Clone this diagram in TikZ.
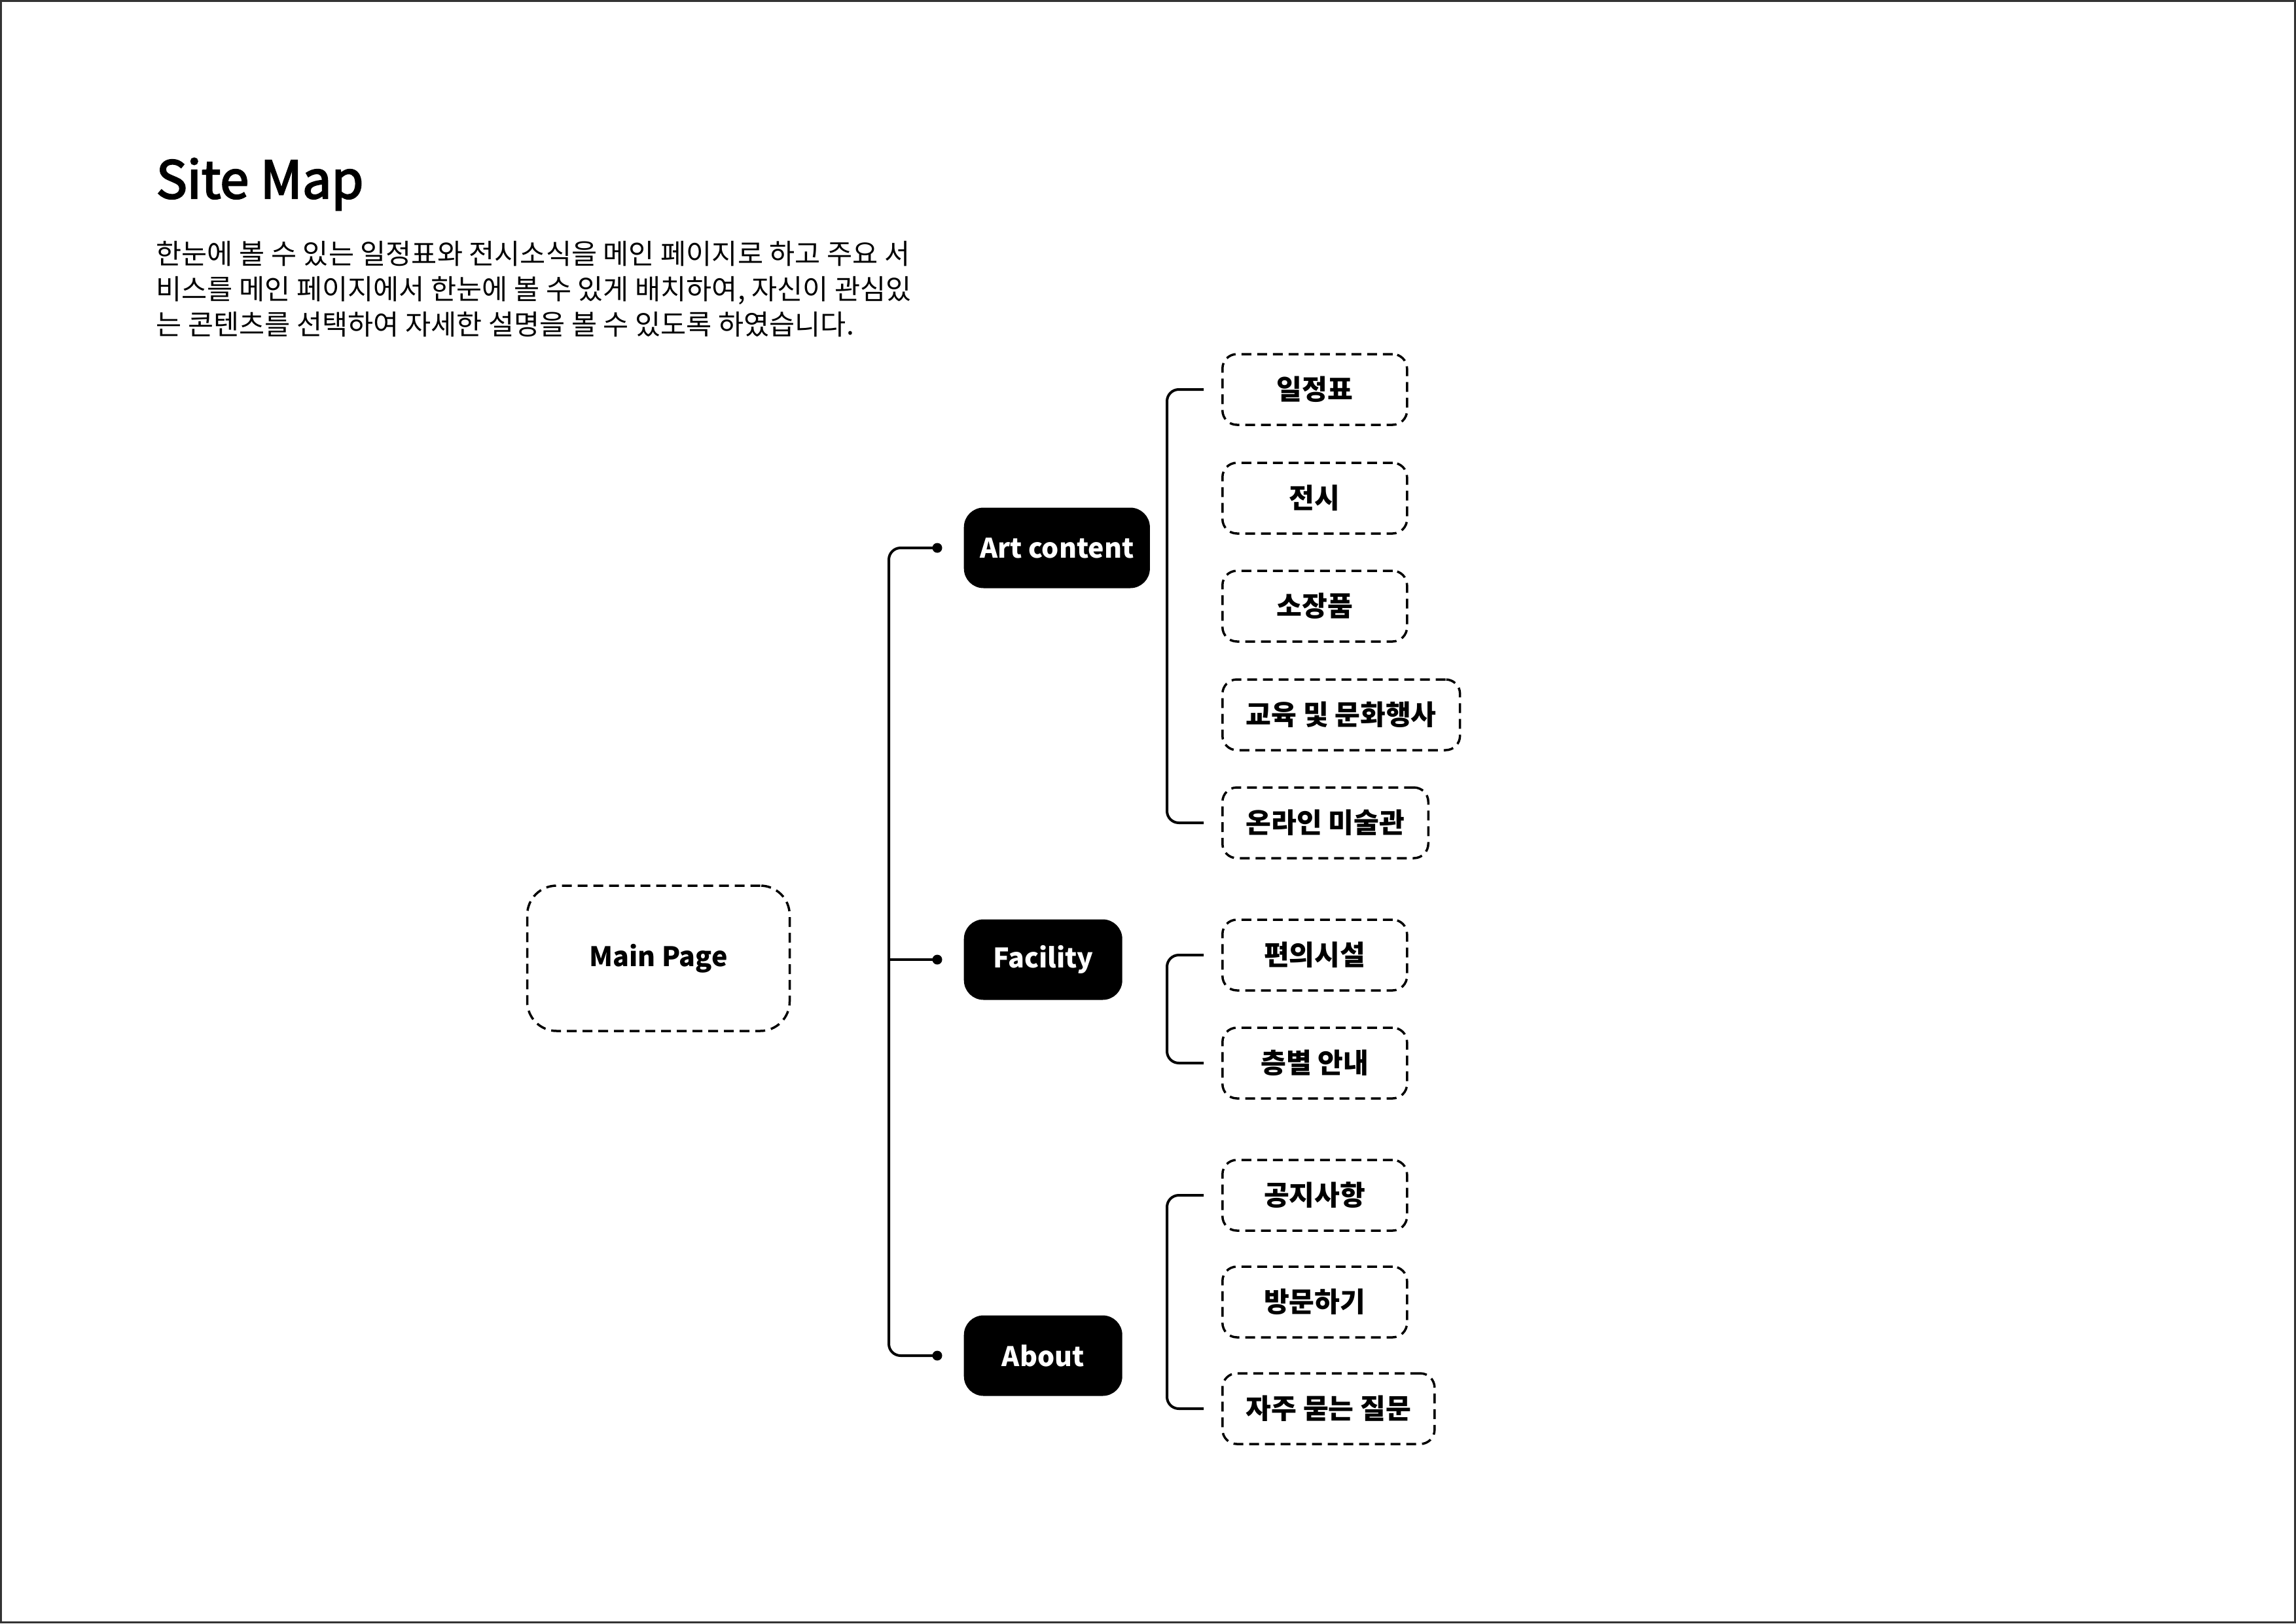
\documentclass[tikz,border=0pt]{standalone}
\usepackage{fontspec}
\setmainfont{Noto Sans CJK KR}
\newfontfamily\titlefont{Noto Sans CJK KR}[FakeBold=3]
\usepackage{tikz}
\usetikzlibrary{positioning}

\begin{document}
\begin{tikzpicture}[
	mainbox/.style={draw, line width=0.035cm, dash pattern=on 0.15cm off 0.09cm, rounded corners=0.45cm, minimum width=4.01cm, minimum height=2.22cm, font=\bfseries\fontsize{11.7}{14}\selectfont},
	menubox/.style={fill=black, text=white, rounded corners=0.3cm, minimum width=2.42cm, minimum height=1.23cm, inner xsep=0.245cm, anchor=west, font=\bfseries\fontsize{11.7}{14}\selectfont},
	subbox/.style={draw, line width=0.035cm, dash pattern=on 0.15cm off 0.09cm, rounded corners=0.22cm, minimum width=2.82cm, minimum height=1.08cm, inner xsep=0.36cm, anchor=west, font=\bfseries\fontsize{12}{14}\selectfont},
	link/.style={line width=0.04cm, rounded corners=0.18cm},
	dot/.style={circle, fill=black, inner sep=0pt, minimum size=0.15cm},
	]
	\useasboundingbox (0, 0) rectangle (35.08, -24.80);
	\draw[line width=0.3mm, black!80] (0.015, -0.015) rectangle (35.065, -24.785);
	%%
	\node[anchor=base west, inner sep=0pt, font=\titlefont\fontsize{22.5}{26}\selectfont] (title) at (2.38, -3.03) {Site Map};
	\node[anchor=north west, inner sep=0pt, align=left, font=\fontsize{12.1}{15.3}\selectfont] (desc) at (2.38, -3.68)
		{한눈에 볼 수 있는 일정표와 전시소식을 메인 페이지로 하고 주요 서\\
		 비스를 메인 페이지에서 한눈에 볼 수 있게 배치하여, 자신이 관심있\\
		 는 콘텐츠를 선택하여 자세한 설명을 볼 수 있도록 하였습니다.};
	%%
	\node[mainbox] (main) at (10.06, -14.64) {Main Page};
	%%
	\node[menubox] (art) at (14.72, -8.37) {Art content};
	\node[menubox] (facility) at (14.72, -14.66) {Facility};
	\node[menubox] (about) at (14.72, -20.71) {About};
	%%
	\node[dot] (artdot) at ([xshift=-0.4cm]art.west) {};
	\node[dot] (facilitydot) at ([xshift=-0.4cm]facility.west) {};
	\node[dot] (aboutdot) at ([xshift=-0.4cm]about.west) {};
	\coordinate (fork) at (13.58, -14.66);
	\draw[link] (artdot.center) -| (fork) |- (aboutdot.center);
	\draw[link] (fork) -- (facilitydot.center);
	%%
	\node[subbox] (schedule) at (18.66, -5.95) {일정표};
	\node[subbox] (exhibit) at (18.66, -7.61) {전시};
	\node[subbox] (collection) at (18.66, -9.26) {소장품};
	\node[subbox] (education) at (18.66, -10.92) {교육 및 문화행사};
	\node[subbox] (online) at (18.66, -12.57) {온라인 미술관};
	\coordinate (artfork) at (17.83, -9.26);
	\draw[link] ([xshift=-0.27cm]schedule.west) -| (artfork) |- ([xshift=-0.27cm]online.west);
	%%
	\node[subbox] (amenity) at (18.66, -14.59) {편의시설};
	\node[subbox] (floor) at (18.66, -16.24) {층별 안내};
	\coordinate (facilityfork) at (17.83, -15.40);
	\draw[link] ([xshift=-0.27cm]amenity.west) -| (facilityfork) |- ([xshift=-0.27cm]floor.west);
	%%
	\node[subbox] (notice) at (18.66, -18.26) {공지사항};
	\node[subbox] (visit) at (18.66, -19.89) {방문하기};
	\node[subbox] (faq) at (18.66, -21.52) {자주 묻는 질문};
	\coordinate (aboutfork) at (17.83, -19.89);
	\draw[link] ([xshift=-0.27cm]notice.west) -| (aboutfork) |- ([xshift=-0.27cm]faq.west);
\end{tikzpicture}
\end{document}
